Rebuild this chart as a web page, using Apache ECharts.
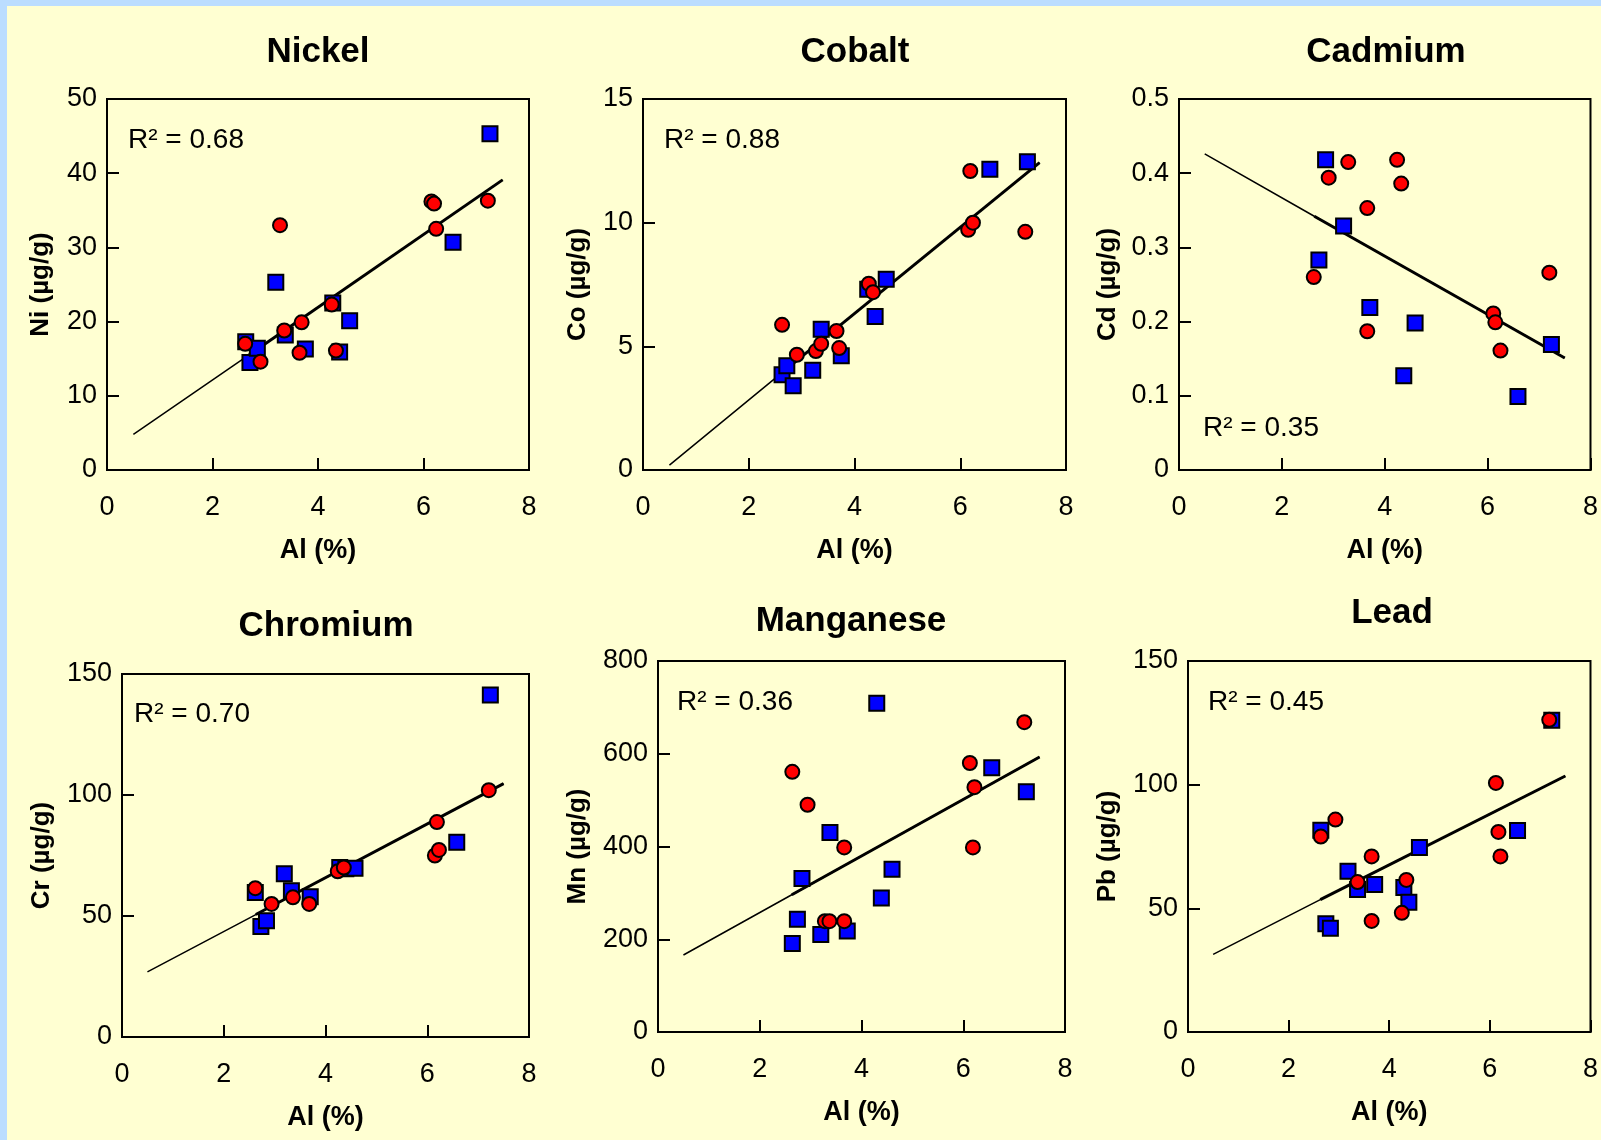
<!DOCTYPE html>
<html>
<head>
<meta charset="utf-8">
<title>Metals vs Al</title>
<script src="https://cdn.jsdelivr.net/npm/echarts@6/dist/echarts.min.js"></script>
<style>
    html, body { margin: 0; padding: 0; background: #FFFFD2; }
    #main { width: 1601px; height: 1140px; }
</style>
</head>
<body>
<div id="main"></div>
<script>
// x = Al (%), y = metal (µg/g); blue squares and red circles
var niBlue = [[2.63, 17.3], [2.71, 14.5], [2.85, 16.4], [3.20, 25.3], [3.38, 18.2], [3.76, 16.3], [4.28, 22.5], [4.41, 15.9], [4.60, 20.1], [6.56, 30.7], [7.26, 45.3]];
var niRed = [[2.62, 17.0], [2.91, 14.6], [3.28, 33.0], [3.36, 18.8], [3.65, 15.8], [3.69, 19.9], [4.26, 22.3], [4.34, 16.1], [6.15, 36.2], [6.20, 35.9], [6.24, 32.5], [7.22, 36.3]];
var niTrend = [[0.5, 4.8], [2.63, 15.2], [7.5, 39.1]];

var coBlue = [[2.63, 3.85], [2.72, 4.22], [2.84, 3.41], [3.21, 4.03], [3.37, 5.69], [3.75, 4.62], [4.25, 7.31], [4.39, 6.21], [4.60, 7.71], [6.56, 12.16], [7.27, 12.46]];
var coRed = [[2.63, 5.87], [2.91, 4.66], [3.27, 4.81], [3.37, 5.10], [3.66, 5.62], [3.71, 4.93], [4.27, 7.53], [4.35, 7.19], [6.15, 9.71], [6.19, 12.09], [6.24, 10.0], [7.23, 9.63]];
var coTrend = [[0.5, 0.2], [2.63, 3.94], [7.5, 12.43]];

var cdBlue = [[2.72, 0.283], [2.85, 0.418], [3.20, 0.329], [3.71, 0.219], [4.37, 0.127], [4.59, 0.198], [6.59, 0.099], [7.24, 0.169]];
var cdRed = [[2.62, 0.260], [2.91, 0.394], [3.29, 0.415], [3.66, 0.353], [3.66, 0.187], [4.24, 0.418], [4.32, 0.386], [6.11, 0.211], [6.15, 0.199], [6.25, 0.161], [7.20, 0.266]];
var cdTrend = [[0.5, 0.426], [2.63, 0.342], [7.5, 0.151]];

var crBlue = [[2.62, 59.7], [2.73, 45.7], [2.84, 48.0], [3.19, 67.5], [3.33, 60.4], [3.70, 58.0], [4.28, 70.0], [4.40, 69.5], [4.58, 69.7], [6.58, 80.5], [7.24, 141.3]];
var crRed = [[2.62, 61.5], [2.94, 55.0], [3.36, 57.7], [3.68, 55.0], [4.24, 68.5], [4.36, 70.0], [6.15, 75.0], [6.19, 88.8], [6.23, 77.3], [7.21, 102.0]];
var crTrend = [[0.5, 26.9], [2.63, 50.6], [7.5, 104.7]];

var mnBlue = [[2.64, 191], [2.74, 243], [2.83, 331], [3.20, 210], [3.38, 430], [3.72, 218], [4.30, 709], [4.39, 289], [4.60, 351], [6.56, 570], [7.24, 518]];
var mnRed = [[2.64, 561], [2.94, 490], [3.28, 239], [3.37, 239], [3.66, 398], [3.66, 239], [6.13, 580], [6.19, 398], [6.22, 528], [7.20, 668]];
var mnTrend = [[0.5, 166], [2.63, 296], [7.5, 593]];

var pbBlue = [[2.64, 81.6], [2.74, 43.8], [2.83, 41.9], [3.18, 65.0], [3.37, 57.6], [3.71, 59.6], [4.29, 58.4], [4.39, 52.5], [4.60, 74.6], [6.55, 81.5], [7.23, 126.0]];
var pbRed = [[2.64, 79.0], [2.93, 85.9], [3.37, 60.6], [3.65, 71.0], [3.65, 44.9], [4.25, 48.2], [4.34, 61.5], [6.12, 100.7], [6.17, 80.9], [6.21, 71.0], [7.18, 126.2]];
var pbTrend = [[0.5, 31.4], [2.63, 53.5], [7.5, 103.5]];

var titles = ['Nickel', 'Cobalt', 'Cadmium', 'Chromium', 'Manganese', 'Lead'];
var yNames = ['Ni (µg/g)', 'Co (µg/g)', 'Cd (µg/g)', 'Cr (µg/g)', 'Mn (µg/g)', 'Pb (µg/g)'];
var rSquared = ['0.68', '0.88', '0.35', '0.70', '0.36', '0.45'];
var yMax = [50, 15, 0.5, 150, 800, 150];
var yStep = [10, 5, 0.1, 50, 200, 50];

var FONT = '"Liberation Sans", Arial, Helvetica, sans-serif';

var panels = [
    { blue: niBlue, red: niRed, trend: niTrend, grid: [107, 99, 422, 371], title: [318, 53], r2: [128, 140], nameGap: 53 },
    { blue: coBlue, red: coRed, trend: coTrend, grid: [643, 99, 423, 371], title: [855, 53], r2: [664, 140], nameGap: 52 },
    { blue: cdBlue, red: cdRed, trend: cdTrend, grid: [1179, 99, 417, 371], title: [1386, 53], r2: [1203, 428], nameGap: 58 },
    { blue: crBlue, red: crRed, trend: crTrend, grid: [122, 674, 407, 363], title: [326, 627], r2: [134, 714], nameGap: 67 },
    { blue: mnBlue, red: mnRed, trend: mnTrend, grid: [658, 661, 407, 371], title: [851, 622], r2: [677, 702], nameGap: 67 },
    { blue: pbBlue, red: pbRed, trend: pbTrend, grid: [1188, 661, 409, 371], title: [1392, 614], r2: [1208, 702], nameGap: 67 }
];

var option = {
    backgroundColor: '#FFFFD2',
    animation: false,
    textStyle: { fontFamily: FONT },
    title: [],
    grid: [],
    xAxis: [],
    yAxis: [],
    series: [],
    graphic: [
        { type: 'rect', shape: { x: 0, y: 0, width: 1601, height: 6 }, style: { fill: '#BBDDFF' } },
        { type: 'rect', shape: { x: 0, y: 0, width: 7, height: 1140 }, style: { fill: '#BBDDFF' } }
    ]
};

panels.forEach(function (p, i) {
    option.title.push({
        text: titles[i],
        left: p.title[0],
        top: p.title[1] - 18,
        textAlign: 'center',
        padding: 0,
        textStyle: { fontFamily: FONT, fontSize: 35, fontWeight: 'bold', color: '#000' }
    });
    option.grid.push({
        left: p.grid[0], top: p.grid[1], width: p.grid[2], height: p.grid[3],
        show: true,
        borderColor: '#000',
        borderWidth: 2,
        backgroundColor: 'transparent'
    });
    option.xAxis.push({
        gridIndex: i,
        type: 'value',
        min: 0, max: 8, interval: 2,
        name: 'Al (%)',
        nameLocation: 'middle',
        nameGap: 67,
        nameTextStyle: { fontFamily: FONT, fontSize: 27, fontWeight: 'bold', color: '#000' },
        axisLine: { show: true, lineStyle: { color: '#000', width: 2 } },
        axisTick: { show: true, inside: true, length: 12, lineStyle: { color: '#000', width: 2 } },
        axisLabel: { fontFamily: FONT, fontSize: 27, color: '#000', margin: 24 },
        splitLine: { show: false }
    });
    option.yAxis.push({
        gridIndex: i,
        type: 'value',
        min: 0, max: yMax[i], interval: yStep[i],
        name: yNames[i],
        nameLocation: 'middle',
        nameGap: p.nameGap,
        nameTextStyle: { fontFamily: FONT, fontSize: 26, fontWeight: 'bold', color: '#000' },
        axisLine: { show: true, lineStyle: { color: '#000', width: 2 } },
        axisTick: { show: true, inside: true, length: 12, lineStyle: { color: '#000', width: 2 } },
        axisLabel: { fontFamily: FONT, fontSize: 27, color: '#000', margin: 10 },
        splitLine: { show: false }
    });
    // regression line: thin over full range, heavy over data range
    option.series.push({
        type: 'line', xAxisIndex: i, yAxisIndex: i,
        data: p.trend, symbol: 'none', z: 1,
        lineStyle: { color: '#000', width: 1.5 }
    });
    option.series.push({
        type: 'line', xAxisIndex: i, yAxisIndex: i,
        data: p.trend.slice(1), symbol: 'none', z: 1,
        lineStyle: { color: '#000', width: 3 }
    });
    option.series.push({
        type: 'scatter', xAxisIndex: i, yAxisIndex: i,
        data: p.blue, symbol: 'rect', symbolSize: 15, z: 2,
        itemStyle: { color: '#0000FF', borderColor: '#000', borderWidth: 2, opacity: 1 }
    });
    option.series.push({
        type: 'scatter', xAxisIndex: i, yAxisIndex: i,
        data: p.red, symbol: 'circle', symbolSize: 14, z: 3,
        itemStyle: { color: '#FF0000', borderColor: '#000', borderWidth: 2, opacity: 1 }
    });
    option.graphic.push({
        type: 'text',
        x: p.r2[0], y: p.r2[1],
        z: 10,
        style: {
            text: 'R² = ' + rSquared[i],
            font: '28px ' + FONT,
            fill: '#000',
            align: 'left',
            verticalAlign: 'middle'
        }
    });
});

var myChart = echarts.init(document.getElementById('main'));
myChart.setOption(option);
</script>
</body>
</html>
